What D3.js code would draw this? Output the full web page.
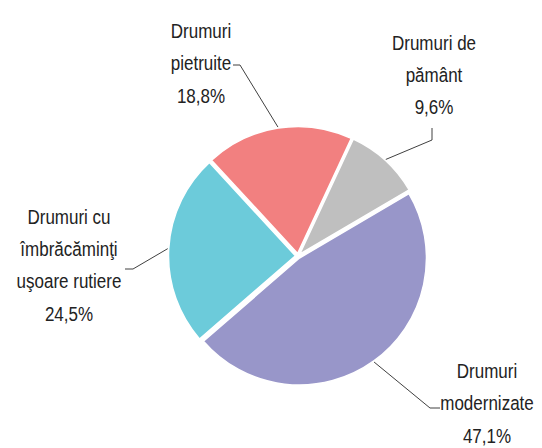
<!DOCTYPE html>
<html>
<head>
<meta charset="utf-8">
<script src="https://cdn.jsdelivr.net/npm/d3@7"></script>
<style>
  body { margin: 0; background: #fff; }
  text { font-family: "Liberation Sans", Arial, sans-serif; font-size: 17px; fill: #222; }
</style>
</head>
<body>
<div id="chart"></div>
<script>
// data
var categories = ["Drumuri de pământ", "Drumuri modernizate", "Drumuri cu îmbrăcăminţi uşoare rutiere", "Drumuri pietruite"];
var values = [9.6, 47.1, 24.5, 18.8];
var labelLines = [["Drumuri de", "pământ"], ["Drumuri", "modernizate"], ["Drumuri cu", "îmbrăcăminţi", "uşoare rutiere"], ["Drumuri", "pietruite"]];
var colors = ["#BFBFBF", "#9896C9", "#6CCBDA", "#F28080"];

var svgWidth = 542;
var svgHeight = 448;
var cx = 298, cy = 256;
var radius = 127;
var explode = 2.5;
var startAngle = 25 * Math.PI / 180;
var lineGap = 32.4;
var stretch = 1.23; // labels look taller than normal

// label layout: centre x, first baseline, leader elbow and end
var labelPos = [
    {x: 434, y: 49.5, elbow: [432, 140], end: [432, 128]},
    {x: 487, y: 378, elbow: [430, 408], end: [440, 408]},
    {x: 69, y: 223.5, elbow: [133, 269], end: [125, 269]},
    {x: 201, y: 38, elbow: [240, 65], end: [233, 65]}
];

var svg = d3.select("#chart")
    .append("svg")
    .attr("width", svgWidth)
    .attr("height", svgHeight);

var pie = d3.pie()
    .sort(null)
    .startAngle(startAngle)
    .endAngle(startAngle + 2 * Math.PI);

var arc = d3.arc()
    .innerRadius(0)
    .outerRadius(radius);

var arcs = pie(values);

var chartGroup = svg.append("g")
    .attr("transform", `translate(${cx}, ${cy})`);

function mid(d) { return (d.startAngle + d.endAngle) / 2; }

chartGroup.selectAll("path.slice")
    .data(arcs)
    .enter()
    .append("path")
    .attr("class", "slice")
    .attr("d", arc)
    .attr("transform", function(d) {
        var a = mid(d);
        return `translate(${Math.sin(a) * explode}, ${-Math.cos(a) * explode})`;
    })
    .attr("fill", function(d, i) { return colors[i]; })
    .attr("stroke", "#fff")
    .attr("stroke-width", 1.5);

// leader lines
svg.selectAll("path.leader")
    .data(arcs)
    .enter()
    .append("path")
    .attr("class", "leader")
    .attr("d", function(d, i) {
        var a = mid(d);
        var r = radius + explode + 1;
        var p = labelPos[i];
        var start = [cx + Math.sin(a) * r, cy - Math.cos(a) * r];
        return d3.line()([start, p.elbow, p.end]);
    })
    .attr("fill", "none")
    .attr("stroke", "#404040")
    .attr("stroke-width", 1);

var fmt = d3.format(".1f");

arcs.forEach(function(d, i) {
    var lines = labelLines[i].concat([fmt(values[i]).replace(".", ",") + "%"]);
    var p = labelPos[i];
    lines.forEach(function(t, j) {
        svg.append("text")
            .attr("text-anchor", "middle")
            .attr("transform", `translate(${p.x}, ${p.y + j * lineGap}) scale(1, ${stretch})`)
            .text(t);
    });
});
</script>
</body>
</html>
